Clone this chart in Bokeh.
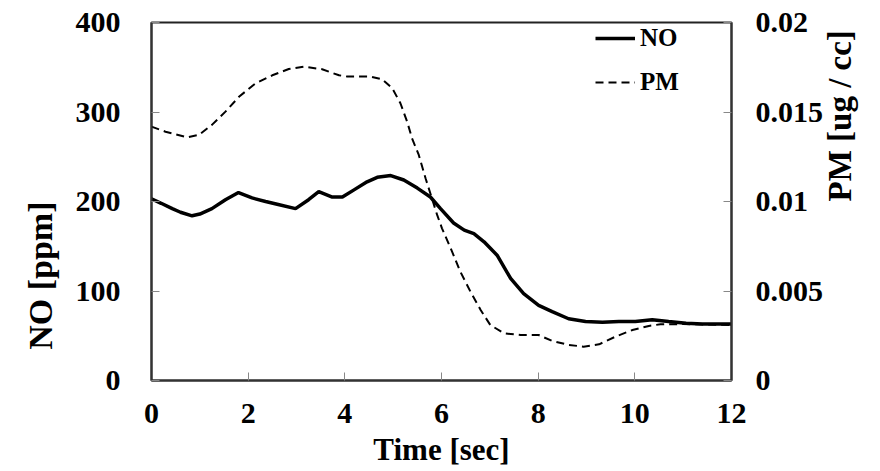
import math
from bokeh.plotting import figure
from bokeh.models import Range1d, LinearAxis, FixedTicker, Legend, LegendItem
from bokeh.embed import file_html
from bokeh.resources import INLINE

# ---- data ----
t_no = [0, 0.2, 0.43, 0.6, 0.84, 1.0, 1.25, 1.53, 1.8, 2.08, 2.36, 2.6, 2.98, 3.25,
        3.46, 3.74, 3.95, 4.19, 4.46, 4.67, 4.95, 5.22, 5.5, 5.77, 5.98, 6.25, 6.47,
        6.67, 6.88, 7.15, 7.43, 7.7, 8.01, 8.29, 8.63, 8.98, 9.33, 9.67, 10.01,
        10.36, 10.7, 11.06, 11.4, 12]
no_ppm = [203, 198, 192, 188, 184, 186, 192, 202, 210, 204, 200, 197, 192, 202,
          211, 205, 205, 213, 222, 227, 229, 224, 215, 205, 192, 176, 168,
          164, 155, 140, 114, 97, 84, 77, 69, 66, 65, 66, 66,
          68, 66, 64, 63, 63]

t_pm = [0, 0.29, 0.74, 0.98, 1.25, 1.53, 1.81, 2.15, 2.5, 2.84, 3.15, 3.53, 3.88,
        4.05, 4.53, 4.77, 4.98, 5.15, 5.29, 5.39, 5.53, 5.67, 5.91, 6.01, 6.19,
        6.39, 6.6, 6.81, 7.01, 7.29, 7.64, 8.01, 8.29, 8.63, 8.94, 9.26, 9.6,
        9.95, 10.29, 10.53, 11, 12]
pm_ugcc = [0.01418, 0.0139, 0.01359, 0.01372, 0.01428, 0.01502, 0.01585, 0.0166,
           0.01705, 0.0174, 0.01753, 0.01739, 0.01705, 0.01698, 0.01698, 0.01683,
           0.01633, 0.01549, 0.01445, 0.01353, 0.0126, 0.0113, 0.00925, 0.0085,
           0.00739, 0.00608, 0.00496, 0.00394, 0.0031, 0.00264, 0.00254, 0.00254,
           0.00221, 0.00199, 0.00189, 0.00202, 0.00245, 0.00282, 0.00305, 0.00314,
           0.00315, 0.0031]

x_ticks = [0, 2, 4, 6, 8, 10, 12]
no_ticks = [0, 100, 200, 300, 400]
pm_ticks = [0, 0.005, 0.01, 0.015, 0.02]
pm_tick_labels = ["0", "0.005", "0.01", "0.015", "0.02"]

FONT = "Liberation Serif"
TICK_SIZE = "30px"

W, H = 880, 471
FL, FR, FT, FB = 151, 731, 22, 380   # frame edges in canvas pixels
p = figure(width=W, height=H, x_range=Range1d(0, 12), y_range=Range1d(0, 400),
           output_backend="svg", toolbar_location=None,
           min_border_left=FL, min_border_right=W - FR, min_border_top=FT,
           min_border_bottom=H - FB)
p.extra_y_ranges = {"pm": Range1d(0, 0.02)}
p.xgrid.visible = False
p.ygrid.visible = False
p.outline_line_color = "#222222"
p.outline_line_width = 2
p.background_fill_color = "white"
p.border_fill_color = "white"

r_no = p.line(t_no, no_ppm, line_color="black", line_width=3.5)
r_pm = p.line(t_pm, pm_ugcc, line_color="black", line_width=2, line_dash="8 5",
              y_range_name="pm")

right = LinearAxis(y_range_name="pm")
p.add_layout(right, "right")

p.xaxis.ticker = FixedTicker(ticks=x_ticks)
p.yaxis[0].ticker = FixedTicker(ticks=no_ticks)
right.ticker = FixedTicker(ticks=pm_ticks)
right.major_label_overrides = {t: l for t, l in zip(pm_ticks, pm_tick_labels)}

for ax in [p.xaxis[0], p.yaxis[0], right]:
    ax.major_label_text_font = FONT
    ax.major_label_text_font_style = "bold"
    ax.major_label_text_font_size = TICK_SIZE
    ax.major_label_text_color = "black"
    ax.major_tick_in = 8
    ax.major_tick_out = 0
    ax.major_tick_line_color = "#888888"
    ax.major_tick_line_width = 1
    ax.minor_tick_line_color = None
    ax.axis_line_color = "#333333"
    ax.axis_line_width = 2

p.yaxis[0].major_label_standoff = 31
right.major_label_standoff = 24
p.xaxis[0].major_label_standoff = 23

for ax, text, size, standoff in [(p.xaxis[0], "Time [sec]", "31px", 6),
                                  (p.yaxis[0], "NO [ppm]", "34px", 32),
                                  (right, "PM [ug / cc]", "33px", 14)]:
    ax.axis_label = text
    ax.axis_label_text_font = FONT
    ax.axis_label_text_font_style = "bold"
    ax.axis_label_text_font_size = size
    ax.axis_label_text_color = "black"
    ax.axis_label_standoff = standoff

# vertical titles read bottom-to-top as in the reference
try:
    p.yaxis[0].axis_label_orientation = math.pi / 2
    p.yaxis[0].axis_label_text_align = "right"
except Exception:
    pass
try:
    right.axis_label_orientation = math.pi / 2
except Exception:
    pass

legend = Legend(items=[LegendItem(label="NO", renderers=[r_no]),
                       LegendItem(label="PM", renderers=[r_pm])],
                location=(444, 284))
legend.background_fill_alpha = 0
legend.border_line_color = None
legend.padding = 0
legend.margin = 0
legend.spacing = 16
legend.glyph_width = 40
legend.glyph_height = 24
legend.label_height = 24
legend.label_standoff = 5
legend.label_text_font = FONT
legend.label_text_font_style = "bold"
legend.label_text_font_size = "25px"
legend.label_text_color = "black"
p.add_layout(legend, "center")

open("out.html", "w").write(file_html(p, INLINE))
